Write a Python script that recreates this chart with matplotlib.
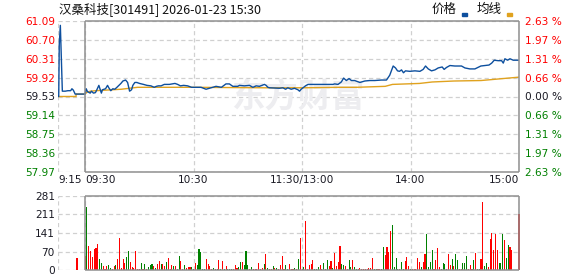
import matplotlib
matplotlib.use("Agg")
import matplotlib.pyplot as plt
from matplotlib.patches import Rectangle

plt.rcParams['font.family'] = ['DejaVu Sans']
plt.rcParams['lines.scale_dashes'] = False

title = "汉桑科技[301491] 2026-01-23 15:30"
pre_close = 59.53
price_ticks = [57.97, 58.36, 58.75, 59.14, 59.53, 59.92, 60.31, 60.70, 61.09]
pct_labels = ["2.63 %", "1.97 %", "1.31 %", "0.66 %", "0.00 %",
              "0.66 %", "1.31 %", "1.97 %", "2.63 %"]
vol_ticks = [0, 70, 141, 211, 281]
time_ticks = [-15, 0, 60, 120, 180, 240]
time_labels = ["9:15", "09:30", "10:30", "11:30/13:00", "14:00", "15:00"]

# time in trading minutes from 09:30 (negative = call auction), price
price_pts = [
    (-15, 59.53), (-14.6, 59.53), (-14.3, 60.61), (-13.7, 61.00), (-13.2, 60.40),
    (-12.6, 59.64), (-11, 59.64), (-9.5, 59.65), (-8, 59.65), (-7.3, 59.69),
    (-6.5, 59.66), (-5.5, 59.58), (0, 59.58),
    (0.6, 59.69), (1.3, 59.63), (2.8, 59.60), (3.5, 59.64), (4.6, 59.60), (5.7, 59.61),
    (6.5, 59.67), (7.6, 59.76), (8.3, 59.68), (9.0, 59.60), (9.6, 59.67), (11.3, 59.69),
    (12.4, 59.76), (13.1, 59.71), (14.2, 59.65), (15.3, 59.69), (16.4, 59.68),
    (17.6, 59.72), (18.7, 59.76), (19.8, 59.80), (20.9, 59.85), (22.4, 59.87),
    (23.5, 59.82), (24.6, 59.64), (25.7, 59.67), (26.4, 59.76), (27.5, 59.82),
    (28.6, 59.82), (30.1, 59.80), (32.3, 59.78), (34.2, 59.76), (36.4, 59.75),
    (38.2, 59.72), (39.4, 59.74), (40.5, 59.75), (42.0, 59.75), (43.8, 59.78),
    (46.6, 59.78), (49.7, 59.80), (51.2, 59.78), (52.7, 59.75), (54.5, 59.76),
    (56.7, 59.75), (58.9, 59.72), (64.1, 59.72), (66.9, 59.68), (70.6, 59.72),
    (72.4, 59.74), (75.4, 59.72), (77.9, 59.79), (79.8, 59.79), (81.7, 59.74),
    (84.4, 59.74), (85.4, 59.76), (88.1, 59.75), (90.9, 59.76), (92.8, 59.72),
    (94.6, 59.75), (96.4, 59.74), (99.2, 59.78), (100.1, 59.76), (101.1, 59.72),
    (102.0, 59.71), (107.5, 59.70), (109.4, 59.71), (110.9, 59.68), (112.1, 59.71),
    (114.0, 59.68), (115.8, 59.70), (117.7, 59.67), (118.6, 59.64), (119.5, 59.68),
    (120.5, 59.71), (121.9, 59.75), (123.3, 59.78), (129.7, 59.78), (137.1, 59.78),
    (138.0, 59.79), (139.9, 59.78), (141.7, 59.83), (143.0, 59.91), (144.5, 59.86),
    (146.0, 59.90), (147.3, 59.86), (149.1, 59.86), (152.0, 59.82), (154.7, 59.85),
    (157.4, 59.86), (160.2, 59.86), (163.9, 59.87), (166.7, 59.87), (168.5, 59.97),
    (170.4, 60.16), (171.7, 60.12), (172.8, 60.06), (173.9, 60.05), (175.0, 60.08),
    (176.1, 60.02), (177.2, 60.06), (179.6, 60.05), (182.4, 60.06), (185.2, 60.05),
    (187.0, 60.09), (188.3, 60.16), (189.8, 60.10), (191.6, 60.06), (193.5, 60.08),
    (195.3, 60.12), (197.5, 60.14), (198.6, 60.09), (199.9, 60.13), (201.8, 60.17),
    (204.5, 60.16), (208.2, 60.16), (210.1, 60.12), (212.8, 60.10), (215.6, 60.10),
    (218.9, 60.16), (221.2, 60.17), (223.4, 60.18), (224.9, 60.22), (226.3, 60.28),
    (228.5, 60.27), (230.4, 60.27), (231.3, 60.22), (232.2, 60.31), (233.7, 60.28),
    (235.0, 60.31), (236.8, 60.28), (240, 60.28),
]

avg_pts = [
    (-15, 59.53), (-5, 59.53), (-5, 59.58), (0, 59.58), (1, 59.62), (3, 59.64),
    (6, 59.65), (20, 59.68), (29, 59.72), (60, 59.72), (100, 59.71), (120, 59.71),
    (140, 59.72), (150, 59.72), (166, 59.74), (170, 59.78), (185, 59.80),
    (192, 59.83), (204, 59.85), (219, 59.86), (228, 59.89), (234, 59.91), (240, 59.93),
]

auction_vol_t = [-4.5]
auction_vol = [45]

# one bar per minute 09:30 .. 15:00
volumes = [
    54, 241, 92, 73, 51, 81, 85, 100, 43, 28, 16, 5, 16, 20, 9, 5, 16, 20, 43, 123,
    9, 43, 28, 51, 73, 32, 13, 9, 73, 5, 3, 28, 5, 24, 5, 13, 20, 24, 16, 9,
    24, 35, 24, 24, 16, 32, 47, 5, 20, 16, 16, 3, 54, 35, 3, 20, 9, 13, 13, 13,
    3, 28, 20, 81, 70, 5, 5, 43,
    24, 16, 5, 9, 5, 5, 39, 5, 35, 2, 16, 5, 5, 5, 2, 20, 9, 13, 32, 32,
    20, 73, 20, 5, 13, 5, 5, 5, 28, 5, 9, 24, 62, 9, 5, 2, 16, 9, 9, 5,
    20, 54, 5, 20, 2, 24, 5, 5, 9, 5, 43, 123, 2, 13, 187, 5, 20, 24, 39, 5,
    2, 13, 20, 5, 28, 5, 39, 16, 35, 9, 66, 16, 32, 92, 24, 20, 16, 5, 39, 13,
    39, 13, 2, 2,
    9, 5, 5, 5, 2, 9, 9, 47, 5, 5, 5, 5, 5, 89, 58, 89, 70, 149, 172, 13,
    47, 5, 5, 32, 5, 35, 51, 16, 5, 2, 2, 5, 47, 32, 13, 32, 62, 138, 13, 32,
    77, 5, 39, 85, 13, 5, 28, 24, 5, 62, 20, 43, 16, 62, 39, 5, 5, 28, 28, 54,
    5, 20, 5, 39, 66, 5, 5, 43, 260, 15, 27, 11, 118, 140, 76, 137, 76, 27, 27,
    137, 114, 46, 95, 87, 76, 0, 0, 0, 213,
]
vol_dirs = (
    "rgrrrrrrgg" "rrrggrrgrr" "rrrggrrrrr" "rgrgrgggrg" "rrgrrgrrrg" "rggrrgrrrg" "grgggggr"
    "rrrgrgrgr" "g" "rggg" "r" "rrggrgggrgrrrrrrgrgr" "r" "grgrrrrg" "g" "rrrgrgr" "r"
    "grrrrrg" "g" "grrgrgrrgrrrrggrrggrg" "gr"
    "rrrr" "r" "rrrggrrggrrrrggggrggrrrg" "rr"
    "rrrgrrggggrrrrgggrrrgrggrrgggrrrgrggrr"
    "ggrrrrrrgggrggrr" "rrrr"
)

fig = plt.figure(figsize=(5.78, 2.76), dpi=100)
W, H = 578, 276
ax = fig.add_axes([58 / W, 1 - 172 / H, 461 / W, 151 / H])
axv = fig.add_axes([58 / W, 1 - 270 / H, 461 / W, 74 / H])

frame_c = '#8f8f8f'
grid_c = '#d0d0d0'
red, green, dark = '#ff0000', '#008000', '#1a1a24'

for a, lo, hi in [(ax, price_ticks[0], price_ticks[-1]), (axv, vol_ticks[0], vol_ticks[-1])]:
    a.set_xlim(-15, 240)
    a.set_ylim(lo, hi)
    for s in a.spines.values():
        s.set_visible(False)
    a.set_axisbelow(True)
    a.grid(True, color=grid_c, linestyle=(0, (3, 2.2)), linewidth=0.9)
    a.hlines([lo, hi], 0, 240, colors=frame_c, lw=1.1, clip_on=False, zorder=4)
    a.vlines([0, 240], lo, hi, colors=frame_c, lw=1.1, clip_on=False, zorder=4)
    a.tick_params(length=0, labelsize=7.6, pad=2.2)
    a.set_xticks(time_ticks)

# watermark
ax.text(0.52, 0.49, "东方财富", transform=ax.transAxes, ha='center', va='center',
        fontsize=24, fontweight='bold', color='#ededf0', family=['Noto Sans CJK SC'],
        zorder=1)

pt, pv = zip(*price_pts)
at, av = zip(*avg_pts)
ax.plot(at, av, color='#e0a21e', lw=1.0, zorder=3)
ax.plot(pt, pv, color='#0d4f9e', lw=1.0, zorder=3)

ax.set_yticks(price_ticks)
ax.set_yticklabels([f"{v:.2f}" for v in price_ticks])
for lab, v in zip(ax.get_yticklabels(), price_ticks):
    lab.set_color(red if v > pre_close + 1e-6 else (green if v < pre_close - 1e-6 else dark))

axr = ax.twinx()
axr.set_ylim(ax.get_ylim())
for s in axr.spines.values():
    s.set_visible(False)
axr.set_yticks(price_ticks)
axr.set_yticklabels(pct_labels)
axr.tick_params(length=0, labelsize=7.6, pad=4)
for lab, v in zip(axr.get_yticklabels(), price_ticks):
    lab.set_color(red if v > pre_close + 1e-6 else (green if v < pre_close - 1e-6 else dark))

ax.set_xticklabels(time_labels, color=dark)
xl = ax.get_xticklabels()
xl[0].set_ha('left')
xl[1].set_ha('left')
xl[-1].set_ha('right')

vol_x = list(range(len(volumes)))
vol_colors = [red if d == 'r' else green for d in vol_dirs]
axv.bar(auction_vol_t, auction_vol, width=0.6, color=red, zorder=3)
axv.bar(vol_x, volumes, width=0.6, color=vol_colors, zorder=3, clip_on=False)
axv.set_yticks(vol_ticks)
axv.set_yticklabels([str(v) for v in vol_ticks], color=dark)
axv.set_xticklabels([])

fig.text(59 / W, 1 - 9 / H, title, ha='left', va='center', fontsize=9,
         family=['Noto Sans CJK SC', 'DejaVu Sans'], color='#111111')
fig.text(432 / W, 1 - 9 / H, "价格", ha='left', va='center', fontsize=9,
         family=['Noto Sans CJK SC'], color='#111111')
fig.text(477 / W, 1 - 9 / H, "均线", ha='left', va='center', fontsize=9,
         family=['Noto Sans CJK SC'], color='#111111')
fig.patches.append(Rectangle((462 / W, 1 - 16 / H), 5 / W, 2.5 / H,
                             transform=fig.transFigure, color='#0d4f9e'))
fig.patches.append(Rectangle((507 / W, 1 - 16 / H), 5 / W, 2.5 / H,
                             transform=fig.transFigure, color='#e0a21e'))

fig.savefig("out.png", dpi=100)
